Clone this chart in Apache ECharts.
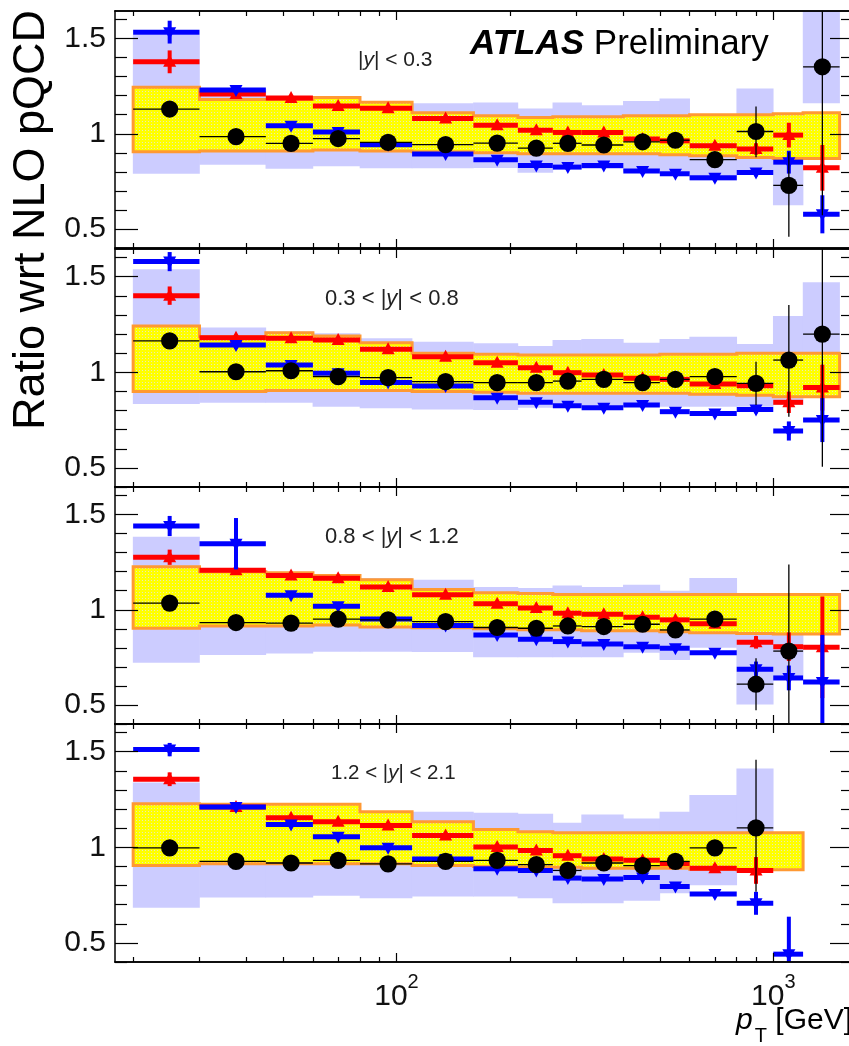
<!DOCTYPE html>
<html>
<head>
<meta charset="utf-8">
<script src="https://cdn.jsdelivr.net/npm/echarts@6.0.0/dist/echarts.min.js"></script>
<style>
  html, body { margin: 0; padding: 0; background: #ffffff; }
  #chart { width: 849px; height: 1046px; }
</style>
</head>
<body>
<div id="chart"></div>
<script>
// ---- binning (pT in GeV) ----
const edges   = [20, 30, 45, 60, 80, 110, 160, 210, 260, 310, 400, 500, 600, 800, 1000, 1200, 1500];
const centers = [25, 37.5, 52.5, 70, 95, 135, 185, 235, 285, 355, 450, 550, 700, 900, 1100, 1350];

// ---- axis ticks / labels ----
const xMinorTicks = [20, 30, 40, 50, 60, 70, 80, 90, 200, 300, 400, 500, 600, 700, 800, 900];
const xMajorTicks = [100, 1000];
const yMinorTicks = [0.4, 0.6, 0.7, 0.8, 0.9, 1.1, 1.2, 1.3, 1.4, 1.6];
const yMajorTicks = [0.5, 1, 1.5];
const panelLabels = [['', '|y| < 0.3'], ['0.3 < ', '|y| < 0.8'], ['0.8 < ', '|y| < 1.2'], ['1.2 < ', '|y| < 2.1']];

// ---- |y| < 0.3 ----
const data1       = [1.13, 0.985, 0.95, 0.975, 0.955, 0.943, 0.951, 0.925, 0.95, 0.941, 0.958, 0.966, 0.864, 1.012, 0.729, 1.352];
const data1Up     = [0.01, 0.005, 0.005, 0.005, 0.005, 0.005, 0.006, 0.008, 0.01, 0.012, 0.015, 0.02, 0.035, 0.131, 0.174, 0.5];
const data1Dn     = [0.01, 0.005, 0.005, 0.005, 0.005, 0.005, 0.006, 0.008, 0.01, 0.012, 0.015, 0.02, 0.035, 0.135, 0.27, 0.78];
const triUp1      = [1.378, 1.209, 1.188, 1.146, 1.134, 1.08, 1.045, 1.019, 1.007, 1.007, 0.972, 0.963, 0.937, 0.92, 0.993, 0.821];
const triUp1Err   = [0.06, 0.01, 0.01, 0.01, 0.01, 0.01, 0.01, 0.01, 0.01, 0.01, 0.012, 0.015, 0.02, 0.03, 0.065, 0.12];
const triDown1    = [1.534, 1.23, 1.042, 1.01, 0.943, 0.894, 0.864, 0.833, 0.825, 0.833, 0.804, 0.79, 0.769, 0.797, 0.851, 0.577];
const triDown1Err = [0.06, 0.015, 0.012, 0.01, 0.01, 0.01, 0.01, 0.01, 0.01, 0.01, 0.012, 0.015, 0.018, 0.02, 0.06, 0.1];
const syst1Lo     = [0.79, 0.837, 0.816, 0.83, 0.819, 0.819, 0.82, 0.795, 0.815, 0.815, 0.80, 0.79, 0.755, 0.80, 0.624, 1.16];
const syst1Hi     = [1.52, 1.235, 1.18, 1.18, 1.167, 1.16, 1.164, 1.133, 1.164, 1.15, 1.172, 1.186, 1.094, 1.238, 0.903, 1.9];
const nlo1Lo      = [0.905, 0.91, 0.91, 0.915, 0.91, 0.905, 0.90, 0.895, 0.895, 0.895, 0.895, 0.89, 0.885, 0.875, 0.87, 0.87];
const nlo1Hi      = [1.245, 1.18, 1.18, 1.19, 1.165, 1.11, 1.095, 1.085, 1.09, 1.09, 1.095, 1.095, 1.10, 1.10, 1.105, 1.11];

// ---- 0.3 < |y| < 0.8 ----
const data2       = [1.164, 1.003, 1.008, 0.977, 0.972, 0.951, 0.946, 0.946, 0.954, 0.963, 0.946, 0.963, 0.977, 0.942, 1.064, 1.20];
const data2Up     = [0.01, 0.005, 0.005, 0.005, 0.005, 0.005, 0.006, 0.008, 0.01, 0.012, 0.015, 0.02, 0.035, 0.113, 0.288, 0.5];
const data2Dn     = [0.01, 0.005, 0.005, 0.005, 0.005, 0.005, 0.006, 0.008, 0.01, 0.012, 0.015, 0.02, 0.035, 0.113, 0.296, 0.694];
const triUp2      = [1.401, 1.181, 1.178, 1.169, 1.12, 1.082, 1.05, 1.024, 0.998, 0.986, 0.969, 0.963, 0.939, 0.93, 0.843, 0.92];
const triUp2Err   = [0.048, 0.01, 0.01, 0.01, 0.01, 0.01, 0.01, 0.01, 0.01, 0.01, 0.012, 0.015, 0.018, 0.022, 0.056, 0.12];
const triDown2    = [1.579, 1.143, 1.038, 0.995, 0.946, 0.928, 0.867, 0.843, 0.825, 0.815, 0.829, 0.794, 0.785, 0.806, 0.693, 0.75];
const triDown2Err = [0.05, 0.02, 0.012, 0.01, 0.01, 0.01, 0.01, 0.01, 0.01, 0.01, 0.012, 0.015, 0.015, 0.02, 0.05, 0.115];
const syst2Lo     = [0.834, 0.841, 0.841, 0.82, 0.812, 0.806, 0.803, 0.815, 0.82, 0.82, 0.82, 0.82, 0.82, 0.82, 0.83, 0.87];
const syst2Hi     = [1.539, 1.234, 1.213, 1.204, 1.178, 1.16, 1.152, 1.138, 1.169, 1.174, 1.155, 1.174, 1.186, 1.148, 1.295, 1.471];
const nlo2Lo      = [0.899, 0.90, 0.905, 0.905, 0.905, 0.90, 0.895, 0.89, 0.89, 0.89, 0.89, 0.89, 0.885, 0.88, 0.872, 0.872];
const nlo2Hi      = [1.242, 1.186, 1.207, 1.19, 1.155, 1.10, 1.095, 1.09, 1.09, 1.09, 1.09, 1.095, 1.095, 1.10, 1.10, 1.10];

// ---- 0.8 < |y| < 1.2 ----
const data3       = [1.035, 0.933, 0.93, 0.951, 0.947, 0.938, 0.907, 0.903, 0.915, 0.912, 0.924, 0.894, 0.951, 0.609, 0.783, null];
const data3Up     = [0.01, 0.005, 0.005, 0.005, 0.005, 0.005, 0.006, 0.008, 0.01, 0.012, 0.015, 0.02, 0.035, 0.136, 0.455, 0];
const data3Dn     = [0.01, 0.005, 0.005, 0.005, 0.005, 0.005, 0.006, 0.008, 0.01, 0.012, 0.015, 0.02, 0.035, 0.137, 0.45, 0];
const triUp3      = [1.276, 1.208, 1.18, 1.166, 1.12, 1.079, 1.032, 1.009, 0.982, 0.977, 0.961, 0.947, 0.926, 0.829, 0.806, 0.803];
const triUp3Err   = [0.04, 0.01, 0.01, 0.01, 0.01, 0.01, 0.01, 0.01, 0.01, 0.01, 0.012, 0.015, 0.018, 0.033, 0.075, 0.267];
const triDown3    = [1.44, 1.347, 1.076, 1.018, 0.951, 0.917, 0.868, 0.845, 0.833, 0.82, 0.806, 0.798, 0.774, 0.688, 0.642, 0.621];
const triDown3Err = [0.053, 0.135, 0.012, 0.012, 0.01, 0.01, 0.01, 0.01, 0.01, 0.01, 0.012, 0.015, 0.015, 0.04, 0.065, 0.247];
const syst3Lo     = [0.722, 0.762, 0.771, 0.78, 0.78, 0.778, 0.75, 0.75, 0.75, 0.75, 0.774, 0.736, 0.80, 0.503, 0.63, null];
const syst3Hi     = [1.384, 1.21, 1.19, 1.18, 1.167, 1.158, 1.12, 1.115, 1.127, 1.12, 1.132, 1.10, 1.167, 0.868, 0.87, null];
const nlo3Lo      = [0.903, 0.915, 0.915, 0.92, 0.91, 0.905, 0.90, 0.895, 0.895, 0.89, 0.89, 0.885, 0.88, 0.875, 0.873, 0.873];
const nlo3Hi      = [1.226, 1.20, 1.195, 1.18, 1.158, 1.106, 1.09, 1.085, 1.08, 1.08, 1.08, 1.08, 1.08, 1.08, 1.08, 1.08];

// ---- 1.2 < |y| < 2.1 ----
const data4       = [0.997, 0.926, 0.918, 0.932, 0.913, 0.926, 0.932, 0.909, 0.879, 0.918, 0.904, 0.926, 0.997, 1.102, null, null];
const data4Up     = [0.01, 0.005, 0.005, 0.005, 0.005, 0.005, 0.006, 0.008, 0.01, 0.012, 0.015, 0.02, 0.04, 0.356, 0, 0];
const data4Dn     = [0.01, 0.005, 0.005, 0.005, 0.005, 0.005, 0.006, 0.008, 0.01, 0.012, 0.015, 0.02, 0.04, 0.334, 0, 0];
const triUp4      = [1.356, 1.211, 1.155, 1.134, 1.114, 1.062, 1.002, 0.983, 0.956, 0.939, 0.932, 0.914, 0.891, 0.879, null, null];
const triUp4Err   = [0.036, 0.01, 0.01, 0.01, 0.01, 0.01, 0.01, 0.01, 0.01, 0.01, 0.012, 0.015, 0.02, 0.07, 0, 0];
const triDown4    = [1.511, 1.211, 1.119, 1.055, 0.997, 0.939, 0.888, 0.879, 0.839, 0.834, 0.842, 0.795, 0.756, 0.707, 0.441, null];
const triDown4Err = [0.035, 0.012, 0.012, 0.012, 0.01, 0.01, 0.01, 0.01, 0.01, 0.01, 0.012, 0.015, 0.018, 0.06, 0.196, 0];
const syst4Lo     = [0.684, 0.737, 0.737, 0.747, 0.734, 0.742, 0.742, 0.734, 0.707, 0.707, 0.721, 0.76, 0.802, 0.875, null, null];
const syst4Hi     = [1.339, 1.20, 1.20, 1.20, 1.186, 1.186, 1.181, 1.176, 1.128, 1.172, 1.151, 1.186, 1.274, 1.412, null, null];
const nlo4Lo      = [0.905, 0.914, 0.914, 0.914, 0.914, 0.905, 0.90, 0.895, 0.895, 0.89, 0.89, 0.89, 0.885, 0.883, 0.883, null];
const nlo4Hi      = [1.228, 1.225, 1.225, 1.225, 1.186, 1.134, 1.093, 1.081, 1.076, 1.076, 1.076, 1.076, 1.076, 1.076, 1.076, null];

// ---- styling / layout ----
const FONT = '"Liberation Sans", Arial, Helvetica, sans-serif';
const TEXT = '#111111';
const LAVENDER = '#ccccff';
const ORANGE = '#ff9933';
const RED = '#ff0000';
const BLUE = '#0000ff';
const X_MIN = 17.9, X_MAX = 1628;
const Y_MIN = 0.4, Y_MAX = 1.645;
const PANEL_TOP = [11, 249, 487, 724];
const PANEL_H = [237, 238, 237, 238];

const panels = [
  { data: data1, up: data1Up, dn: data1Dn, tu: triUp1, tuE: triUp1Err, td: triDown1, tdE: triDown1Err, sLo: syst1Lo, sHi: syst1Hi, nLo: nlo1Lo, nHi: nlo1Hi },
  { data: data2, up: data2Up, dn: data2Dn, tu: triUp2, tuE: triUp2Err, td: triDown2, tdE: triDown2Err, sLo: syst2Lo, sHi: syst2Hi, nLo: nlo2Lo, nHi: nlo2Hi },
  { data: data3, up: data3Up, dn: data3Dn, tu: triUp3, tuE: triUp3Err, td: triDown3, tdE: triDown3Err, sLo: syst3Lo, sHi: syst3Hi, nLo: nlo3Lo, nHi: nlo3Hi },
  { data: data4, up: data4Up, dn: data4Dn, tu: triUp4, tuE: triUp4Err, td: triDown4, tdE: triDown4Err, sLo: syst4Lo, sHi: syst4Hi, nLo: nlo4Lo, nHi: nlo4Hi }
];

// fine dotted fill used for the theory band
function dotPattern() {
  const c = document.createElement('canvas');
  c.width = 3; c.height = 3;
  const g = c.getContext('2d');
  g.fillStyle = '#ffff00';
  g.fillRect(0, 0, 3, 3);
  g.fillStyle = '#e8e8b8';
  g.fillRect(1, 1, 1, 1);
  return c;
}
const yellowFill = { image: dotPattern(), repeat: 'repeat' };

// ---- axes ----
function xAxisDef(gi, position, ticks, len, withLabels) {
  return {
    type: 'log', logBase: 10, gridIndex: gi, position: position, min: X_MIN, max: X_MAX, z: 10,
    axisLine: { show: true, onZero: false, lineStyle: { color: '#000', width: 1.5 } },
    axisTick: { show: true, inside: true, length: len, customValues: ticks, lineStyle: { color: '#000', width: 1.2 } },
    axisLabel: withLabels ? {
      show: true, customValues: xMajorTicks, margin: 10,
      formatter: v => '{n|10}{s|' + Math.round(Math.log10(v)) + '}',
      rich: {
        n: { fontSize: 30, fontFamily: FONT, color: TEXT, lineHeight: 40, verticalAlign: 'bottom' },
        s: { fontSize: 20, fontFamily: FONT, color: TEXT, lineHeight: 20, verticalAlign: 'top' }
      }
    } : { show: false },
    splitLine: { show: false }, minorTick: { show: false }, minorSplitLine: { show: false }
  };
}
function yAxisDef(gi, position, ticks, len, withLabels, showLine) {
  return {
    type: 'value', gridIndex: gi, position: position, min: Y_MIN, max: Y_MAX, z: 10,
    axisLine: { show: showLine, onZero: false, lineStyle: { color: '#000', width: 1.5 } },
    axisTick: { show: true, inside: true, length: len, customValues: ticks, lineStyle: { color: '#000', width: 1.2 } },
    axisLabel: withLabels ? {
      show: true, customValues: yMajorTicks, margin: 9,
      fontSize: 30, fontFamily: FONT, color: TEXT,
      formatter: v => String(Math.round(v * 10) / 10)
    } : { show: false },
    splitLine: { show: false }
  };
}

const grids = [], xAxes = [], yAxes = [];
for (let gi = 0; gi < 4; gi++) {
  grids.push({ left: 115, top: PANEL_TOP[gi], width: 738, height: PANEL_H[gi], containLabel: false, outerBoundsMode: 'none' });
  xAxes.push(xAxisDef(gi, 'bottom', xMinorTicks, 5, false));
  xAxes.push(xAxisDef(gi, 'bottom', xMajorTicks, 9, gi === 3));
  xAxes.push(xAxisDef(gi, 'top', xMinorTicks, 5, false));
  xAxes.push(xAxisDef(gi, 'top', xMajorTicks, 9, false));
  yAxes.push(yAxisDef(gi, 'left', yMinorTicks, 12, true, true));
  yAxes.push(yAxisDef(gi, 'left', yMajorTicks, 23, false, false));
  yAxes.push(yAxisDef(gi, 'right', yMinorTicks, 12, false, true));
  yAxes.push(yAxisDef(gi, 'right', yMajorTicks, 23, false, false));
}

// ---- series builders ----
function systSeries(gi, lo, hi) {
  const data = [];
  lo.forEach((l, i) => { if (l != null) data.push([edges[i], l, edges[i + 1], hi[i]]); });
  return {
    type: 'custom', xAxisIndex: gi * 4, yAxisIndex: gi * 4, z: 1, clip: true, silent: true, data: data,
    renderItem: (params, api) => {
      const a = api.coord([api.value(0), api.value(3)]);
      const b = api.coord([api.value(2), api.value(1)]);
      return { type: 'rect', shape: { x: a[0] - 0.3, y: a[1], width: b[0] - a[0] + 0.6, height: b[1] - a[1] }, style: { fill: LAVENDER } };
    }
  };
}

function nloSeries(gi, lo, hi) {
  return {
    type: 'custom', xAxisIndex: gi * 4, yAxisIndex: gi * 4, z: 2, clip: true, silent: true,
    data: [[centers[0], 1]],
    renderItem: (params, api) => {
      const top = [], bot = [];
      for (let i = 0; i < hi.length; i++) {
        if (hi[i] == null) continue;
        top.push(api.coord([edges[i], hi[i]]), api.coord([edges[i + 1], hi[i]]));
        bot.push(api.coord([edges[i], lo[i]]), api.coord([edges[i + 1], lo[i]]));
      }
      const pts = top.concat(bot.reverse());
      return { type: 'polygon', shape: { points: pts }, style: { fill: yellowFill, stroke: ORANGE, lineWidth: 3, lineJoin: 'miter' } };
    }
  };
}

function markerSeries(gi, vals, dn, up, kind) {
  const data = [];
  vals.forEach((v, i) => {
    if (v == null) return;
    data.push([centers[i], v, v - dn[i], v + up[i], edges[i], edges[i + 1]]);
  });
  const color = kind === 'circle' ? '#000' : (kind === 'up' ? RED : BLUE);
  const hw = kind === 'circle' ? 1.3 : 5;
  const vw = kind === 'circle' ? 1.3 : 4;
  return {
    type: 'custom', xAxisIndex: gi * 4, yAxisIndex: gi * 4, clip: true, silent: true,
    z: kind === 'circle' ? 5 : (kind === 'up' ? 3 : 4),
    data: data,
    renderItem: (params, api) => {
      const c = api.value(0), v = api.value(1);
      const p = api.coord([c, v]);
      const pl = api.coord([api.value(4), v]);
      const pr = api.coord([api.value(5), v]);
      const pLo = api.coord([c, api.value(2)]);
      const pHi = api.coord([c, api.value(3)]);
      const children = [
        { type: 'line', shape: { x1: pl[0], y1: p[1], x2: pr[0], y2: p[1] }, style: { stroke: color, lineWidth: hw } },
        { type: 'line', shape: { x1: p[0], y1: pHi[1], x2: p[0], y2: pLo[1] }, style: { stroke: color, lineWidth: vw } }
      ];
      if (kind === 'circle') {
        children.push({ type: 'circle', shape: { cx: p[0], cy: p[1], r: 8.6 }, style: { fill: '#000' } });
      } else if (kind === 'up') {
        children.push({ type: 'polygon', shape: { points: [[p[0], p[1] - 7], [p[0] - 6.5, p[1] + 5], [p[0] + 6.5, p[1] + 5]] }, style: { fill: color } });
      } else {
        children.push({ type: 'polygon', shape: { points: [[p[0], p[1] + 7], [p[0] - 6.5, p[1] - 5], [p[0] + 6.5, p[1] - 5]] }, style: { fill: color } });
      }
      return { type: 'group', children: children };
    }
  };
}

const series = [];
panels.forEach((pn, gi) => {
  series.push(systSeries(gi, pn.sLo, pn.sHi));
  series.push(nloSeries(gi, pn.nLo, pn.nHi));
  series.push(markerSeries(gi, pn.tu, pn.tuE, pn.tuE, 'up'));
  series.push(markerSeries(gi, pn.td, pn.tdE, pn.tdE, 'down'));
  series.push(markerSeries(gi, pn.data, pn.dn, pn.up, 'circle'));
});

// ---- text ----
const labelPos = [[358, 60, 21], [325, 299, 22], [325, 537, 22], [331, 773, 20.5]];
const graphics = [
  {
    type: 'text', x: 32, y: 220, rotation: Math.PI / 2, z: 20,
    style: { text: 'Ratio wrt NLO pQCD', fontSize: 45, fontFamily: FONT, fill: '#000', align: 'center', verticalAlign: 'middle' }
  },
  {
    type: 'text', x: 470, y: 44, z: 20,
    style: {
      text: '{a|ATLAS} {b|Preliminary}', fontSize: 35, fontFamily: FONT, fill: '#000', align: 'left', verticalAlign: 'middle',
      rich: {
        a: { fontSize: 35, fontFamily: FONT, fontWeight: 'bold', fontStyle: 'italic', fill: '#000' },
        b: { fontSize: 35, fontFamily: FONT, fill: '#000' }
      }
    }
  },
  {
    type: 'text', x: 852, y: 1006, z: 20,
    style: {
      text: '{p|p}{t|T}{g| [GeV]}', fontFamily: FONT, fontSize: 30, fill: '#000', align: 'right', verticalAlign: 'top',
      rich: {
        p: { fontSize: 30, fontFamily: FONT, fontStyle: 'italic', lineHeight: 30, verticalAlign: 'top', fill: '#000' },
        t: { fontSize: 20, fontFamily: FONT, padding: [20, 0, 0, 2], verticalAlign: 'bottom', fill: '#000' },
        g: { fontSize: 30, fontFamily: FONT, lineHeight: 30, verticalAlign: 'top', fill: '#000' }
      }
    }
  }
];
panelLabels.forEach((lab, i) => {
  const [x, y, fs] = labelPos[i];
  const parts = lab[1].split('y');
  graphics.push({
    type: 'text', x: x, y: y, z: 20,
    style: {
      text: lab[0] + parts[0] + '{i|y}' + parts[1], fontSize: fs, fontFamily: FONT, fill: '#222', align: 'left', verticalAlign: 'middle',
      rich: { i: { fontSize: fs, fontFamily: FONT, fontStyle: 'italic', fill: '#222' } }
    }
  });
});

const chart = echarts.init(document.getElementById('chart'), null, { renderer: 'canvas' });
chart.setOption({
  animation: false,
  backgroundColor: '#ffffff',
  grid: grids,
  xAxis: xAxes,
  yAxis: yAxes,
  series: series,
  graphic: graphics
});
</script>
</body>
</html>
